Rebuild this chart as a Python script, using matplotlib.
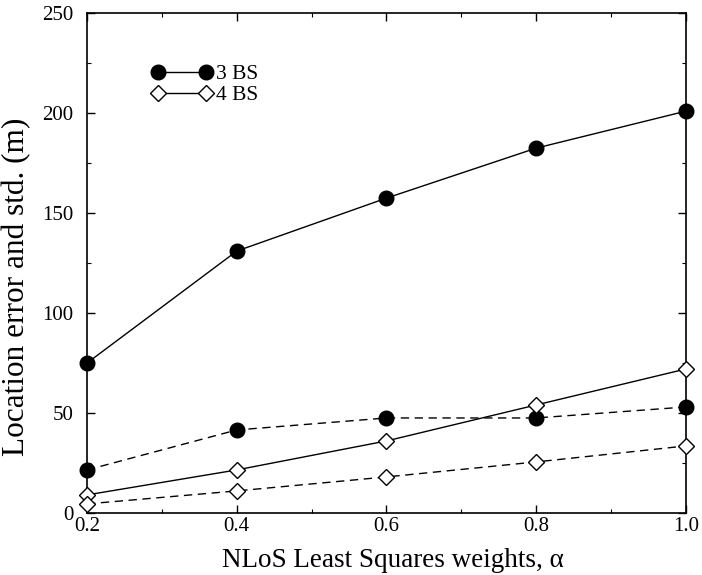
import matplotlib.pyplot as plt
import numpy as np

plt.rcParams['font.family'] = ['Liberation Serif', 'DejaVu Serif']

alpha = [0.2, 0.4, 0.6, 0.8, 1.0]
err_3bs = [75, 131, 157.5, 182.5, 201]
std_3bs = [21.5, 41.5, 47.5, 47.5, 53]
err_4bs = [9, 21.5, 36, 54, 72]
std_4bs = [4.5, 11, 18, 25.5, 33.5]

fig = plt.figure(figsize=(7.02, 5.75), dpi=100)
ax = fig.add_axes([0.124, 0.108, 0.853, 0.869])

ax.plot(alpha, err_3bs, '-o', color='black', lw=1.0, ms=10.5, clip_on=False, label='3 BS', zorder=3)
ax.plot(alpha, std_3bs, '--o', color='black', lw=1.0, ms=10.5, dashes=(6, 4), clip_on=False, zorder=3)
ax.plot(alpha, err_4bs, '-D', color='black', mfc='white', lw=1.0, ms=8, mew=1.0, clip_on=False, label='4 BS', zorder=3)
ax.plot(alpha, std_4bs, '--D', color='black', mfc='white', lw=1.0, ms=8, mew=1.0, dashes=(6, 4), clip_on=False, zorder=3)

ax.set_xlim(0.2, 1.0)
ax.set_ylim(0, 250)
ax.set_xticks([0.2, 0.4, 0.6, 0.8, 1.0])
ax.set_xticklabels(['0.2', '0.4', '0.6', '0.8', '1.0'])
ax.set_xticks(np.arange(0.3, 1.0, 0.2), minor=True)
ax.set_yticks([0, 50, 100, 150, 200, 250])
ax.set_yticks(np.arange(25, 250, 50), minor=True)
ax.tick_params(which='both', direction='in', top=True, right=True, labelsize=15)
ax.tick_params(which='major', length=6, width=1)
ax.tick_params(which='minor', length=3, width=0.8)
ax.tick_params(axis='x', pad=3)
ax.tick_params(axis='y', pad=10)
for s in ax.spines.values():
    s.set_linewidth(1.2)

ax.set_xlabel('NLoS Least Squares weights, α', fontsize=19.5)
ax.xaxis.set_label_coords(0.51, -0.07)
ax.set_ylabel('Location error and std. (m)', fontsize=22.5)
ax.yaxis.set_label_coords(-0.093, 0.452)

ax.legend(loc='upper left', bbox_to_anchor=(0.1077, 0.898), frameon=False, numpoints=2,
          handlelength=2.83, handletextpad=0.15, labelspacing=0.05, fontsize=15.5,
          borderpad=0, borderaxespad=0)

fig.savefig('out.png', dpi=100)
